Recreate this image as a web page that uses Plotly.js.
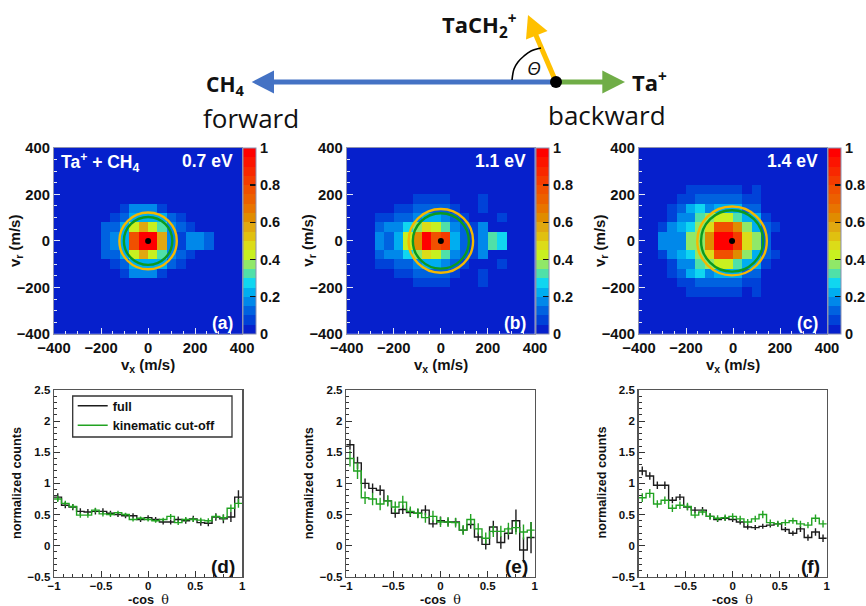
<!DOCTYPE html>
<html><head><meta charset="utf-8">
<script src="https://cdn.plot.ly/plotly-3.0.1.min.js"></script>
<style>html,body{margin:0;padding:0;background:#fff}</style>
</head><body><div id="c" style="width:866px;height:606px"></div>
<script>
// ---------- data ----------
const binCentersV = [-380,-340,-300,-260,-220,-180,-140,-100,-60,-20,20,60,100,140,180,220,260,300,340,380];
// upper half rows of the velocity maps, y bins 0-40, 40-80, ... (the maps are mirror images in v_r)
const mapA = [
 [.02,.02,.02,.02,.02,.12,.17,.22,.77,.97,.97,.57,.17,.07,.17,.17,.12,.02,.02,.02],
 [.02,.02,.02,.02,.02,.12,.12,.22,.42,.57,.44,.32,.17,.12,.07,.02,.02,.02,.02,.02],
 [.02,.02,.02,.02,.02,.02,.07,.12,.22,.22,.22,.22,.12,.07,.02,.02,.02,.02,.02,.02],
 [.02,.02,.02,.02,.02,.02,.02,.07,.17,.17,.17,.07,.02,.02,.02,.02,.02,.02,.02,.02],
 [.02,.02,.02,.02,.02,.02,.02,.02,.02,.02,.02,.02,.02,.02,.02,.02,.02,.02,.02,.02]];
const mapB = [
 [.02,.02,.02,.17,.12,.22,.42,.62,.97,.77,.82,.22,.12,.07,.17,.32,.27,.02,.02,.02],
 [.02,.02,.02,.12,.17,.17,.27,.37,.47,.42,.32,.17,.12,.07,.17,.02,.02,.02,.02,.02],
 [.02,.02,.02,.07,.07,.12,.12,.17,.22,.22,.17,.12,.07,.02,.02,.02,.07,.02,.02,.02],
 [.02,.02,.02,.02,.02,.07,.07,.12,.12,.12,.12,.07,.02,.02,.07,.02,.02,.02,.02,.02],
 [.02,.02,.02,.02,.02,.02,.02,.07,.07,.07,.07,.02,.02,.02,.07,.02,.02,.02,.02,.02]];
const mapC = [
 [.02,.02,.17,.17,.17,.37,.37,.62,.97,.97,.82,.47,.37,.12,.02,.02,.02,.02,.02,.02],
 [.02,.02,.07,.17,.22,.27,.37,.47,.77,.77,.62,.37,.22,.12,.07,.02,.02,.02,.02,.02],
 [.02,.02,.02,.07,.17,.17,.32,.37,.42,.42,.32,.22,.22,.07,.02,.02,.02,.02,.02,.02],
 [.02,.02,.02,.07,.12,.22,.27,.17,.22,.22,.22,.12,.12,.02,.02,.02,.02,.02,.02,.02],
 [.02,.02,.02,.02,.07,.07,.12,.12,.12,.12,.12,.07,.07,.02,.02,.02,.02,.02,.02,.02],
 [.02,.02,.02,.02,.02,.07,.07,.07,.07,.07,.07,.02,.07,.02,.02,.02,.02,.02,.02,.02]];
const emptyRow = binCentersV.map(()=>.02);
const paletteColors = ['#0620cc','#0042d8','#0062e0','#0088ea','#00aef0','#10d6f0','#50e0a8','#90e868','#c8f020','#dcdc18',
 '#e0c010','#e0a810','#e08c00','#e87400','#ec6000','#f05000','#f43c00','#f82800','#fc1400','#ff0000'];
const yellowRadius = [122,137,148], greenRadius = [103,119,132], centerVx = [0,0,-4];
const energyLabels = ['0.7 eV','1.1 eV','1.4 eV'];
const mapTags = ['(a)','(b)','(c)'], histTags = ['(d)','(e)','(f)'];

const cosBins = [-.96,-.88,-.8,-.72,-.64,-.56,-.48,-.4,-.32,-.24,-.16,-.08,0,.08,.16,.24,.32,.4,.48,.56,.64,.72,.8,.88,.96];
const fullD = [.78,.65,.62,.55,.54,.55,.55,.52,.5,.48,.48,.42,.45,.42,.38,.38,.42,.4,.43,.37,.36,.46,.43,.46,.78];
const fullDerr = [.06,.05,.05,.05,.05,.05,.05,.04,.04,.04,.04,.04,.04,.04,.04,.04,.05,.05,.05,.05,.05,.06,.07,.08,.11];
const cutD = [.75,.68,.63,.49,.49,.57,.51,.5,.53,.5,.42,.44,.42,.4,.42,.47,.37,.42,.42,.41,.4,.47,.45,.6,.68];
const cutDerr = [.05,.04,.04,.04,.04,.04,.04,.04,.03,.03,.03,.03,.03,.03,.03,.04,.04,.04,.04,.04,.04,.04,.05,.06,.07];
const fullE = [1.62,1.33,1.0,.92,.89,.72,.52,.58,.53,.52,.57,.35,.4,.38,.38,.25,.34,.14,.02,.3,.05,.2,.4,-.07,.13];
const fullEerr = [.08,.1,.08,.08,.08,.08,.07,.07,.07,.07,.08,.06,.07,.06,.06,.06,.07,.07,.08,.1,.1,.1,.18,.2,.25];
const cutE = [1.4,1.2,.77,.75,.67,.72,.62,.7,.55,.52,.45,.47,.38,.38,.37,.25,.42,.27,.12,.23,.23,.27,.29,.22,.25];
const cutEerr = [.13,.13,.1,.1,.1,.09,.09,.1,.08,.08,.08,.09,.08,.08,.08,.08,.09,.09,.09,.09,.09,.1,.11,.12,.13];
const fullF = [1.2,1.12,.97,.97,.73,.78,.62,.57,.57,.47,.42,.44,.42,.38,.3,.29,.31,.33,.35,.26,.2,.27,.13,.22,.12];
const fullFerr = [.07,.06,.06,.06,.05,.05,.05,.05,.05,.05,.04,.04,.04,.04,.04,.04,.04,.04,.04,.04,.04,.05,.05,.06,.06];
const cutF = [.77,.84,.67,.73,.6,.65,.63,.49,.54,.47,.44,.45,.47,.43,.38,.43,.5,.37,.35,.37,.4,.35,.33,.44,.35];
const cutFerr = [.07,.07,.06,.06,.06,.06,.06,.05,.05,.05,.05,.05,.05,.05,.05,.05,.06,.05,.05,.05,.05,.05,.05,.06,.06];

// ---------- layout geometry (px in the 866x606 page) ----------
const W=866,H=606;
const px=x=>x/W, py=y=>1-y/H;
const colLeft=[54,346.7,639], colRight=[242.2,535,827];
const histLeft=[54,346.2,638.5], histRight=[242.2,534.8,826.8];
const mapTop=147.8, mapBottom=334, histTop=390, histBottom=576.8;
const FONT='"Liberation Sans", Arial, sans-serif', DIAG='"Open Sans", "Noto Sans", sans-serif';
const INK='#111';

const colorscale=[];
paletteColors.forEach((c,i)=>{colorscale.push([i/20,c]);colorscale.push([(i+1)/20,c]);});

const data=[], shapes=[], annotations=[];
const layout={width:W,height:H,margin:{l:0,r:0,t:0,b:0,autoexpand:false},paper_bgcolor:'#fff',plot_bgcolor:'#fff',showlegend:true,
 font:{family:FONT,color:INK}};
const sfx=n=>n===1?'':String(n);

function note(text,x,y,size,opts){annotations.push(Object.assign({text,x:px(x),y:py(y),xref:'paper',yref:'paper',showarrow:false,
 xanchor:'center',yanchor:'middle',font:{family:FONT,size,color:INK,weight:'bold'}},opts||{}));}

[mapA,mapB,mapC].forEach((upper,k)=>{
  const n=k+1, xa='x'+sfx(n), ya='y'+sfx(n);
  const rows=upper.concat(Array(10-upper.length).fill(emptyRow));
  const z=rows.slice().reverse().concat(rows);
  data.push({type:'heatmap',x:binCentersV,y:binCentersV,z,xaxis:xa,yaxis:ya,zmin:0,zmax:1,colorscale,showlegend:false,
    colorbar:{x:px(colRight[k]+1),xanchor:'left',y:py((mapTop+mapBottom)/2),yanchor:'middle',len:(mapBottom-mapTop)/H,lenmode:'fraction',
      thickness:13,thicknessmode:'pixels',xpad:0,ypad:0,outlinecolor:'#8a8fb0',outlinewidth:1,ticks:'inside',ticklen:6,tickwidth:1.3,tickcolor:'#111',
      tickvals:[0,.2,.4,.6,.8,1],ticktext:['0','0.2','0.4','0.6','0.8','1'],tickfont:{family:FONT,size:14.5,color:INK,weight:'bold'},ticklabelposition:'outside'}});
  data.push({type:'scatter',mode:'markers',x:[centerVx[k]],y:[0],xaxis:xa,yaxis:ya,marker:{size:6,color:'#000'},showlegend:false,hoverinfo:'skip'});
  const ax={range:[-400,400],domain:[px(colLeft[k]),px(colRight[k])],anchor:ya,dtick:200,ticks:'inside',ticklen:6,tickwidth:1,tickcolor:'#e4e6f4',
    minor:{dtick:50,ticks:'inside',ticklen:3,tickwidth:1,tickcolor:'#e4e6f4'},showgrid:false,zeroline:false,showline:true,mirror:true,linecolor:'#8f93b0',linewidth:1,
    tickfont:{family:FONT,size:14.8,color:INK,weight:'bold'},layer:'above traces'};
  layout['xaxis'+sfx(n)]=Object.assign({},ax);
  layout['yaxis'+sfx(n)]=Object.assign({},ax,{domain:[py(mapBottom),py(mapTop)],anchor:xa});
  [[yellowRadius[k],'#f5b800',2.4],[greenRadius[k],'#0c9a20',2.4]].forEach(([r,c,w])=>shapes.push({type:'circle',xref:xa,yref:ya,
    x0:centerVx[k]-r,x1:centerVx[k]+r,y0:-r,y1:r,line:{color:c,width:w},layer:'above'}));
  note('v<sub>x</sub> (m/s)',(colLeft[k]+colRight[k])/2,365,15);
  note('v<sub>r</sub> (m/s)',colLeft[k]-39,241,15,{textangle:-90});
  note(energyLabels[k],colRight[k]-7,160.5,17.5,{xanchor:'right',font:{family:FONT,size:17.5,color:'#fff',weight:'bold'}});
  note(mapTags[k],colRight[k]-7,323,17.5,{xanchor:'right',font:{family:FONT,size:17.5,color:'#fff',weight:'bold'}});
});
note('Ta<sup>+</sup> + CH<sub>4</sub>',59,162,17.5,{xanchor:'left',font:{family:FONT,size:17.5,color:'#fff',weight:'bold'}});

[[fullD,fullDerr,cutD,cutDerr],[fullE,fullEerr,cutE,cutEerr],[fullF,fullFerr,cutF,cutFerr]].forEach((s,k)=>{
  const n=k+4, xa='x'+n, ya='y'+n;
  const edgeX=[-1,...cosBins,1];
  const series=[[s[0],s[1],'#1c1c1c','full'],[s[2],s[3],'#22a322','kinematic cut-off']];
  series.forEach(([v,e,c,name])=>{
    data.push({type:'scatter',mode:'lines',name,x:edgeX,y:[v[0],...v,v[v.length-1]],xaxis:xa,yaxis:ya,line:{shape:'hvh',color:c,width:1.4},
      error_y:{type:'data',array:[0,...e,0],visible:true,color:c,thickness:1.4,width:0},showlegend:k===0,hoverinfo:'skip'});
  });
  layout['xaxis'+n]={range:[-1,1],domain:[px(histLeft[k]),px(histRight[k])],anchor:ya,dtick:.5,ticks:'inside',ticklen:6,tickwidth:1,tickcolor:'#333',
    minor:{dtick:.1,ticks:'inside',ticklen:3,tickwidth:1,tickcolor:'#333'},showgrid:false,zeroline:false,showline:true,mirror:true,linecolor:'#555',linewidth:1.4,
    tickfont:{family:FONT,size:11.5,color:INK,weight:'bold'},ticklabelstandoff:-2};
  layout['yaxis'+n]={range:[-.5,2.5],domain:[py(histBottom),py(histTop)],anchor:xa,dtick:.5,ticks:'inside',ticklen:6,tickwidth:1,tickcolor:'#333',
    minor:{dtick:.1,ticks:'inside',ticklen:3,tickwidth:1,tickcolor:'#333'},showgrid:false,zeroline:false,showline:true,mirror:true,linecolor:'#555',linewidth:1.4,
    tickfont:{family:FONT,size:11.5,color:INK,weight:'bold'}};
  note('-cos  <span style="font-family:\'DejaVu Serif\';font-weight:normal">θ</span>',(histLeft[k]+histRight[k])/2,599.5,12.7);
  note('normalized counts',histLeft[k]-37,483,12.7,{textangle:-90});
  note(histTags[k],histRight[k]-5,566,19,{xanchor:'right'});
});
shapes.push({type:'rect',xref:'paper',yref:'paper',x0:px(72.7),x1:px(232),y0:py(437),y1:py(396),line:{color:'#333',width:1.3},fillcolor:'#fff',layer:'above'});
layout.legend={x:px(72.7),y:py(391),xanchor:'left',yanchor:'top',bgcolor:'rgba(0,0,0,0)',borderwidth:0,
  font:{family:FONT,size:12.7,color:INK,weight:'bold'},itemwidth:30,tracegroupgap:0};

// ---------- schematic on top, on a hidden axis covering the top strip only ----------
const schemeBottom=135;
const schemeArrows=[
 {c:'#4472c4',shaft:[[556,82],[272,82]],head:[[251.7,82],[274,70.5],[274,93.5]]},
 {c:'#70ad47',shaft:[[556,82],[604,82]],head:[[625,82],[602.3,70.5],[602.3,93.5]]},
 {c:'#ffc000',shaft:[[556,82],[535,33]],head:[[528,15],[526,39.5],[547.5,31]]}];
schemeArrows.forEach(a=>{
  data.push({type:'scatter',mode:'lines',x:a.shaft.map(p=>p[0]),y:a.shaft.map(p=>p[1]),xaxis:'x7',yaxis:'y7',line:{color:a.c,width:5},showlegend:false,hoverinfo:'skip'});
  data.push({type:'scatter',mode:'lines',x:a.head.map(p=>p[0]).concat(a.head[0][0]),y:a.head.map(p=>p[1]).concat(a.head[0][1]),xaxis:'x7',yaxis:'y7',fill:'toself',fillcolor:a.c,line:{color:a.c,width:0},showlegend:false,hoverinfo:'skip'});
});
const arcX=[512,514,518,524,531,541], arcY=[80,69,62,56,51,48];
data.push({type:'scatter',mode:'lines',x:arcX,y:arcY,xaxis:'x7',yaxis:'y7',line:{color:'#000',width:1.6,shape:'spline'},showlegend:false,hoverinfo:'skip'});
data.push({type:'scatter',mode:'markers',x:[556],y:[82],xaxis:'x7',yaxis:'y7',marker:{size:12,color:'#000'},showlegend:false,hoverinfo:'skip'});
layout.xaxis7={range:[0,W],domain:[0,1],anchor:'y7',visible:false,fixedrange:true};
layout.yaxis7={range:[schemeBottom,0],domain:[py(schemeBottom),1],anchor:'x7',visible:false,fixedrange:true};
const big=(t,x,y,s,w)=>note(t,x,y,s,{font:{family:DIAG,size:s,color:'#111',weight:w}});
big('CH<sub>4</sub>',225,85,21,'bold');
big('forward',251,118,26,'normal');
big('backward',607,115,26,'normal');
big('Ta<sup>+</sup>',649,82,22,'bold');
big('TaCH<sub>2</sub><sup>+</sup>',479,26,22,'bold');
note('<i>Θ</i>',533.5,68,19,{font:{family:DIAG,size:19,color:'#111',weight:'normal'}});

layout.shapes=shapes; layout.annotations=annotations;
Plotly.newPlot('c',data,layout,{displayModeBar:false,staticPlot:true});
</script></body></html>
